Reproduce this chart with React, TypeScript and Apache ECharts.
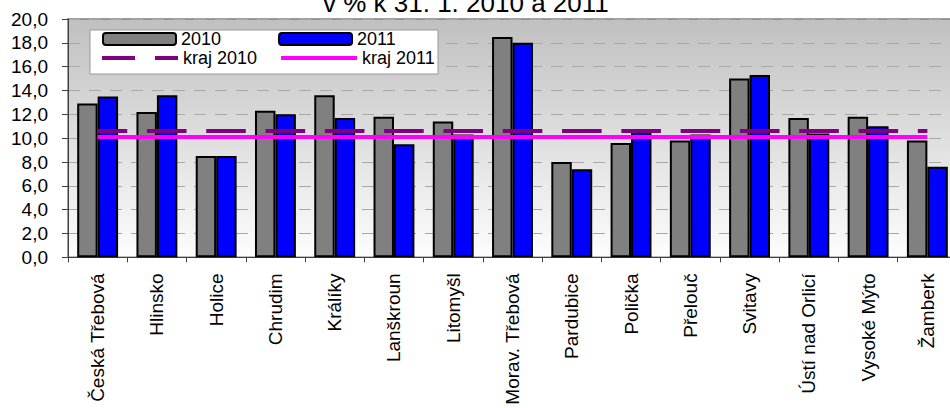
import React, { useEffect, useRef } from "react";
import * as echarts from "echarts";

const titleText = "v % k 31. 1. 2010 a 2011";
const categories = [
  "Česká Třebová",
  "Hlinsko",
  "Holice",
  "Chrudim",
  "Králíky",
  "Lanškroun",
  "Litomyšl",
  "Morav. Třebová",
  "Pardubice",
  "Polička",
  "Přelouč",
  "Svitavy",
  "Ústí nad Orlicí",
  "Vysoké Mýto",
  "Žamberk",
];
const values2010 = [12.9, 12.2, 8.5, 12.3, 13.6, 11.8, 11.4, 18.5, 8.0, 9.6, 9.8, 15.0, 11.7, 11.8, 9.8];
const values2011 = [13.5, 13.6, 8.5, 12.0, 11.7, 9.5, 10.3, 18.0, 7.4, 10.5, 10.3, 15.3, 10.4, 11.0, 7.6];
const kraj2010 = [10.6, 10.6, 10.6, 10.6, 10.6, 10.6, 10.6, 10.6, 10.6, 10.6, 10.6, 10.6, 10.6, 10.6, 10.6];
const kraj2011 = [10.1, 10.1, 10.1, 10.1, 10.1, 10.1, 10.1, 10.1, 10.1, 10.1, 10.1, 10.1, 10.1, 10.1, 10.1];
const seriesNames = ["2010", "2011", "kraj 2010", "kraj 2011"];

const FONT = 'Arial, "Liberation Sans", sans-serif';
const PURPLE = "#800080";
const MAGENTA = "#ff00ff";

export default function App() {
  const ref = useRef<HTMLDivElement>(null);

  useEffect(() => {
    if (!ref.current) return;
    const chart = echarts.init(ref.current, undefined, { renderer: "svg" });
    const option: any = {
      animation: false,
      textStyle: { fontFamily: FONT },
      title: {
        text: titleText,
        left: 323,
        top: -10,
        padding: 0,
        textStyle: { fontSize: 26, fontWeight: "normal", color: "#000", fontFamily: FONT },
      },
      grid: {
        left: 68,
        right: 3,
        top: 19,
        bottom: 149,
        show: true,
        backgroundColor: {
          type: "linear",
          x: 0,
          y: 0,
          x2: 0,
          y2: 1,
          colorStops: [
            { offset: 0, color: "#c0c0c0" },
            { offset: 1, color: "#fdfdfd" },
          ],
        },
        borderColor: "#808080",
        borderWidth: 1.5,
      },
      xAxis: {
        type: "category",
        data: categories,
        axisLine: { lineStyle: { color: "#404040", width: 1 } },
        axisTick: { show: true, length: 5, lineStyle: { color: "#404040" } },
        axisLabel: {
          rotate: 90,
          interval: 0,
          margin: 16,
          fontSize: 19,
          color: "#000",
          fontFamily: FONT,
        },
      },
      yAxis: {
        type: "value",
        min: 0,
        max: 20,
        interval: 2,
        axisLine: { show: true, lineStyle: { color: "#404040", width: 1 } },
        axisTick: { show: true, length: 6, lineStyle: { color: "#404040" } },
        axisLabel: {
          margin: 20,
          fontSize: 19,
          color: "#000",
          fontFamily: FONT,
          formatter: (v: number) => v.toFixed(1).replace(".", ","),
        },
        splitLine: { lineStyle: { color: "#a8a8a8", type: [12, 9], width: 1 } },
      },
      graphic: [
        {
          type: "rect",
          z: 3,
          shape: { x: 90, y: 30, width: 348, height: 44 },
          style: { fill: "#ffffff", stroke: "#9a9a9a", lineWidth: 1 },
        },
      ],
      legend: [
        {
          data: [seriesNames[0], seriesNames[1]],
          left: 102,
          top: 30,
          padding: 0,
          itemWidth: 73,
          itemHeight: 12,
          itemGap: 57,
          textStyle: { fontSize: 18, color: "#000", fontFamily: FONT },
        },
        {
          data: [
            {
              name: seriesNames[2],
              itemStyle: { color: "rgba(0,0,0,0)", borderWidth: 0, opacity: 0 },
              lineStyle: { color: PURPLE, width: 4, type: [33, 20], dashOffset: 0 },
            },
            {
              name: seriesNames[3],
              itemStyle: { color: "rgba(0,0,0,0)", borderWidth: 0, opacity: 0 },
              lineStyle: { color: MAGENTA, width: 4, type: "solid" },
            },
          ],
          left: 100,
          top: 49,
          padding: 0,
          itemWidth: 76,
          itemHeight: 12,
          itemGap: 22,
          itemStyle: { color: "rgba(0,0,0,0)", borderWidth: 0, opacity: 0 },
          lineStyle: { width: 4 },
          textStyle: { fontSize: 18, color: "#000", fontFamily: FONT },
        },
      ],
      series: [
        {
          name: seriesNames[0],
          type: "bar",
          data: values2010,
          barGap: "0%",
          barCategoryGap: "31%",
          itemStyle: { color: "#808080", borderColor: "#000", borderWidth: 2 },
        },
        {
          name: seriesNames[1],
          type: "bar",
          data: values2011,
          barGap: "0%",
          barCategoryGap: "31%",
          itemStyle: { color: "#0000ff", borderColor: "#000", borderWidth: 2 },
        },
        {
          name: seriesNames[2],
          type: "line",
          data: kraj2010,
          symbol: "none",
          z: 4,
          itemStyle: { color: PURPLE },
          lineStyle: { color: PURPLE, width: 4, type: [39.6, 19.7], dashOffset: 10.2, cap: "butt" },
        },
        {
          name: seriesNames[3],
          type: "line",
          data: kraj2011,
          symbol: "none",
          z: 5,
          itemStyle: { color: MAGENTA },
          lineStyle: { color: MAGENTA, width: 4, type: "solid" },
        },
      ],
    };
    chart.setOption(option);
    return () => chart.dispose();
  }, []);

  return (
    <div style={{ position: "fixed", left: 0, top: 0, width: 950, height: 408, overflow: "hidden", background: "#fff" }}>
      <div ref={ref} style={{ width: 960, height: 408 }} />
    </div>
  );
}
